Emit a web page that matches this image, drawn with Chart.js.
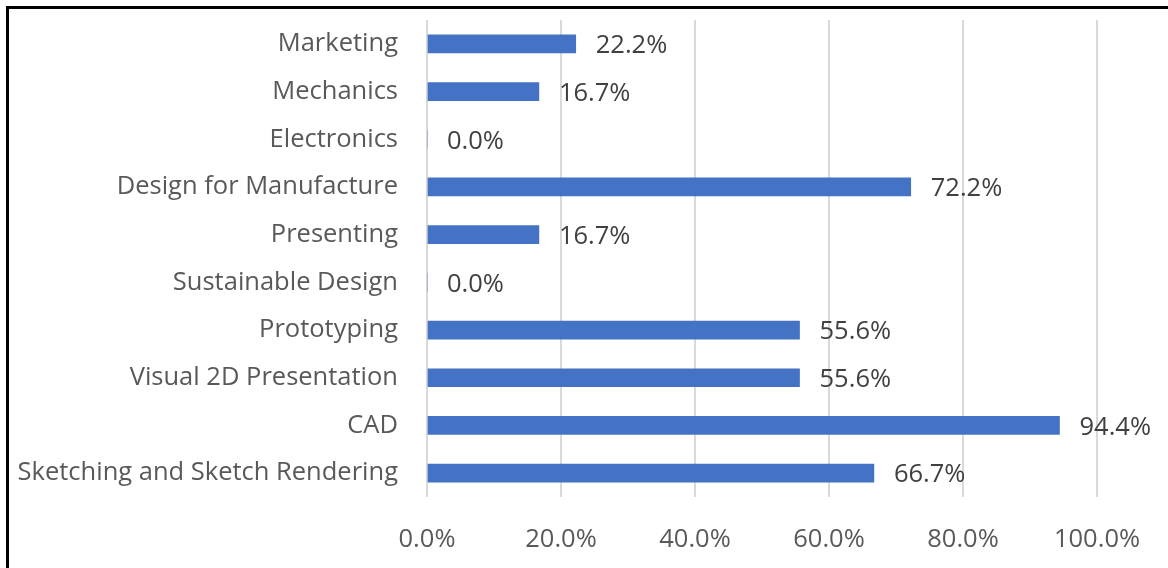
<!DOCTYPE html>
<html>
  <head>
    <meta charset="UTF-8" />
    <title>Skills chart</title>
    <script src="https://cdn.jsdelivr.net/npm/chart.js"></script>
    <style>
      html, body { margin: 0; padding: 0; background: #fff; }
      #wrap { position: relative; width: 1168px; height: 568px; overflow: hidden; }
      #frame {
        position: absolute; left: 6px; top: 6px; width: 1300px; height: 700px;
        border-left: 3px solid #000; border-top: 3px solid #000;
      }
      canvas { position: absolute; left: 0; top: 0; }
    </style>
  </head>
  <body>
    <div id="wrap">
      <canvas id="chart" width="1168" height="568"></canvas>
      <div id="frame"></div>
    </div>
    <script>
      const categories = [
        "Marketing",
        "Mechanics",
        "Electronics",
        "Design for Manufacture",
        "Presenting",
        "Sustainable Design",
        "Prototyping",
        "Visual 2D Presentation",
        "CAD",
        "Sketching and Sketch Rendering"
      ];
      const percentages = [22.2, 16.7, 0.0, 72.2, 16.7, 0.0, 55.6, 55.6, 94.4, 66.7];
      const xTicks = [0, 20, 40, 60, 80, 100];

      const fontFamily = "'Open Sans', 'Noto Sans', sans-serif";
      const fontSize = 25.5;

      // draws the value next to each bar end
      const valueLabels = {
        id: "valueLabels",
        afterDatasetsDraw(chart) {
          const ctx = chart.ctx;
          const meta = chart.getDatasetMeta(0);
          ctx.save();
          ctx.font = fontSize + "px " + fontFamily;
          ctx.fillStyle = "#404040";
          ctx.textAlign = "left";
          ctx.textBaseline = "middle";
          meta.data.forEach((bar, i) => {
            ctx.fillText(percentages[i].toFixed(1) + "%", bar.x + 20, bar.y + 2);
          });
          ctx.restore();
        }
      };

      new Chart(document.getElementById("chart"), {
        type: "bar",
        data: {
          labels: categories,
          datasets: [{
            data: percentages,
            backgroundColor: "#4472C4",
            borderWidth: 0,
            barThickness: 18
          }]
        },
        options: {
          indexAxis: "y",
          responsive: false,
          animation: false,
          layout: { padding: { top: 20, right: 71, left: 0, bottom: 0 } },
          plugins: { legend: { display: false }, tooltip: { enabled: false } },
          scales: {
            x: {
              min: 0,
              max: 100,
              afterBuildTicks(scale) { scale.ticks = xTicks.map(v => ({ value: v })); },
              afterFit(scale) { scale.height = 71; scale.paddingLeft = 0; scale.paddingRight = 0; },
              grid: { color: "#d9d9d9", lineWidth: 2, drawTicks: false },
              border: { display: false },
              ticks: {
                padding: 27,
                color: "#595959",
                font: { family: fontFamily, size: fontSize },
                callback: v => v.toFixed(1) + "%"
              }
            },
            y: {
              afterFit(scale) { scale.width = 427; scale.paddingTop = 0; scale.paddingBottom = 0; },
              grid: { display: false, drawTicks: false },
              border: { display: false },
              ticks: {
                padding: 29,
                color: "#595959",
                font: { family: fontFamily, size: fontSize }
              }
            }
          }
        },
        plugins: [valueLabels]
      });
    </script>
  </body>
</html>
